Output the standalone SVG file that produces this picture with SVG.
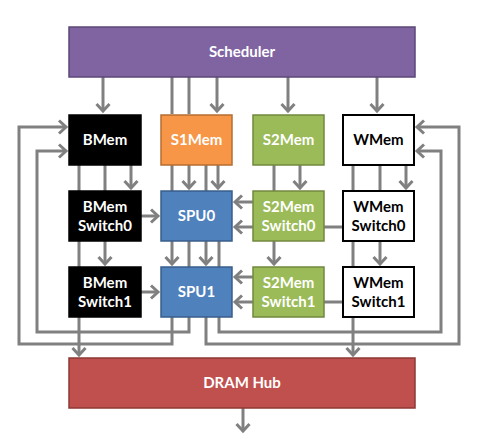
<svg xmlns="http://www.w3.org/2000/svg" width="479" height="435" viewBox="0 0 479 435">
<style>
.c{fill:none;stroke:#808080;stroke-width:3}
.t{font-family:Lato,"Open Sans","Liberation Sans",sans-serif;font-weight:700;font-size:15px;text-anchor:middle;fill:#fff}
.k{fill:#000}
.b{stroke-width:1.5}
</style>
<defs>
<marker id="a" markerUnits="userSpaceOnUse" markerWidth="20" markerHeight="20" viewBox="-10 -10 20 20" refX="0" refY="0" orient="auto"><path d="M-7,-6.5 L0,0 L-7,6.5" fill="none" stroke="#808080" stroke-width="3"/></marker>
</defs>
<rect width="479" height="435" fill="#fff"/>
<g id="connectors">
<path class="c" d="M103,77V111" marker-end="url(#a)"/>
<path class="c" d="M172,77V114M189,77V114"/>
<path class="c" d="M217,77V111" marker-end="url(#a)"/>
<path class="c" d="M288,77V111" marker-end="url(#a)"/>
<path class="c" d="M377,77V111" marker-end="url(#a)"/>
<path class="c" d="M79,165V191M105,165V191M79,241V267"/>
<path class="c" d="M131,165V188" marker-end="url(#a)"/>
<path class="c" d="M105,241V264" marker-end="url(#a)"/>
<path class="c" d="M79,317V355" marker-end="url(#a)"/>
<path class="c" d="M141,216H158" marker-end="url(#a)"/>
<path class="c" d="M141,292H158" marker-end="url(#a)"/>
<path class="c" d="M172,165V191M206,165V191M189,241V267M219,241V267"/>
<path class="c" d="M189,165V188" marker-end="url(#a)"/>
<path class="c" d="M218,165V188" marker-end="url(#a)"/>
<path class="c" d="M172,241V264" marker-end="url(#a)"/>
<path class="c" d="M206,241V264" marker-end="url(#a)"/>
<path class="c" d="M172,317V344H19V127H66" marker-end="url(#a)"/>
<path class="c" d="M189,317V332H37V151H66" marker-end="url(#a)"/>
<path class="c" d="M206,317V344H459V127H417" marker-end="url(#a)"/>
<path class="c" d="M219,317V332H441V151H417" marker-end="url(#a)"/>
<path class="c" d="M274,165V191M343,227H324M343,302H324"/>
<path class="c" d="M300,165V188" marker-end="url(#a)"/>
<path class="c" d="M274,241V264" marker-end="url(#a)"/>
<path class="c" d="M253,202H235" marker-end="url(#a)"/>
<path class="c" d="M253,227H235" marker-end="url(#a)"/>
<path class="c" d="M253,277H235" marker-end="url(#a)"/>
<path class="c" d="M253,302H235" marker-end="url(#a)"/>
<path class="c" d="M353,165V191M380,165V191M353,241V267"/>
<path class="c" d="M406,165V188" marker-end="url(#a)"/>
<path class="c" d="M380,241V264" marker-end="url(#a)"/>
<path class="c" d="M353,317V355" marker-end="url(#a)"/>
<path class="c" d="M243,408V431" marker-end="url(#a)"/>
</g>
<g id="scheduler"><rect class="b" x="69" y="27" width="346" height="50" fill="#8064A2" stroke="#5C4776"/><text class="t" x="242" y="57">Scheduler</text></g>
<g id="bmem"><rect class="b" x="69" y="115" width="72" height="50" fill="#000" stroke="#000"/><text class="t" x="105" y="145">BMem</text></g>
<g id="s1mem"><rect class="b" x="161" y="115" width="71" height="50" fill="#F79646" stroke="#B66D31"/><text class="t" x="196.5" y="145">S1Mem</text></g>
<g id="s2mem"><rect class="b" x="253" y="115" width="71" height="50" fill="#9BBB59" stroke="#71893F"/><text class="t" x="288.5" y="145">S2Mem</text></g>
<g id="wmem"><rect x="343" y="115" width="71" height="50" fill="#fff" stroke="#000" stroke-width="2"/><text class="t k" x="378.5" y="145">WMem</text></g>
<g id="bmemsw0"><rect class="b" x="69" y="191" width="72" height="50" fill="#000" stroke="#000"/><text class="t" x="105" y="212">BMem</text><text class="t" x="105" y="231">Switch0</text></g>
<g id="spu0"><rect class="b" x="161" y="191" width="71" height="50" fill="#4F81BD" stroke="#385D8A"/><text class="t" x="196.5" y="221">SPU0</text></g>
<g id="s2memsw0"><rect class="b" x="253" y="191" width="71" height="50" fill="#9BBB59" stroke="#71893F"/><text class="t" x="288.5" y="212">S2Mem</text><text class="t" x="288.5" y="231">Switch0</text></g>
<g id="wmemsw0"><rect x="343" y="191" width="71" height="50" fill="#fff" stroke="#000" stroke-width="2"/><text class="t k" x="378.5" y="212">WMem</text><text class="t k" x="378.5" y="231">Switch0</text></g>
<g id="bmemsw1"><rect class="b" x="69" y="267" width="72" height="50" fill="#000" stroke="#000"/><text class="t" x="105" y="288">BMem</text><text class="t" x="105" y="307">Switch1</text></g>
<g id="spu1"><rect class="b" x="161" y="267" width="71" height="50" fill="#4F81BD" stroke="#385D8A"/><text class="t" x="196.5" y="297">SPU1</text></g>
<g id="s2memsw1"><rect class="b" x="253" y="267" width="71" height="50" fill="#9BBB59" stroke="#71893F"/><text class="t" x="288.5" y="288">S2Mem</text><text class="t" x="288.5" y="307">Switch1</text></g>
<g id="wmemsw1"><rect x="343" y="267" width="71" height="50" fill="#fff" stroke="#000" stroke-width="2"/><text class="t k" x="378.5" y="288">WMem</text><text class="t k" x="378.5" y="307">Switch1</text></g>
<g id="dram"><rect class="b" x="69" y="358" width="346" height="50" fill="#C0504D" stroke="#8C3836"/><text class="t" x="242" y="388">DRAM Hub</text></g>
</svg>
